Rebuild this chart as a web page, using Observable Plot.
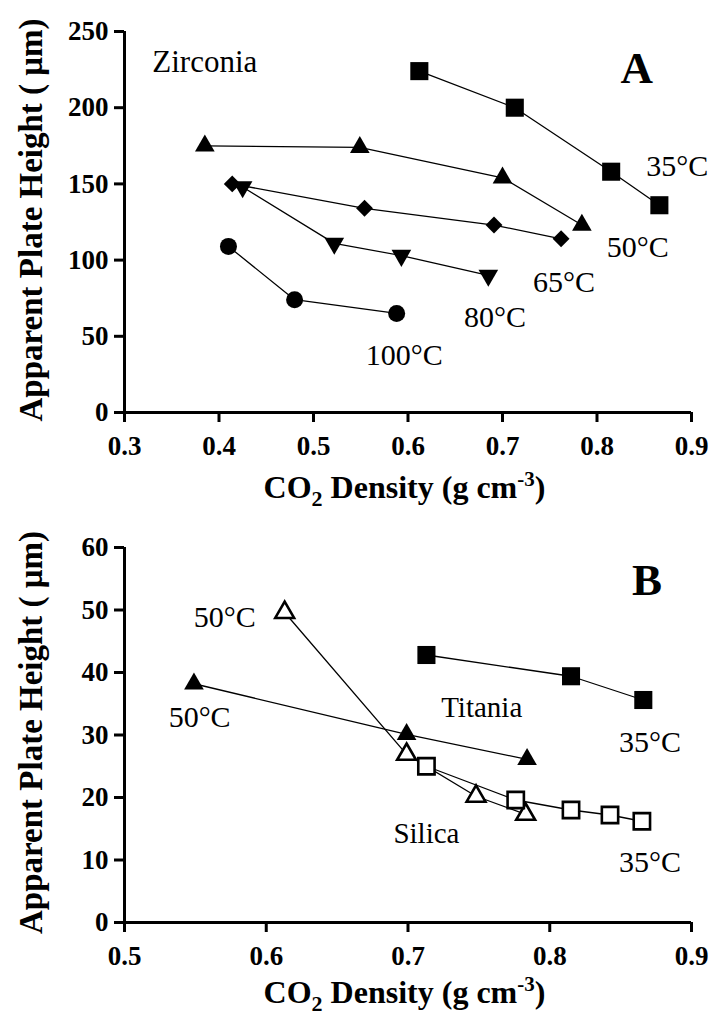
<!DOCTYPE html>
<html>
<head>
<meta charset="utf-8">
<script src="https://cdn.jsdelivr.net/npm/d3@7"></script>
<script src="https://cdn.jsdelivr.net/npm/@observablehq/plot@0.6"></script>
<style>
  html, body { margin: 0; padding: 0; background: #fff; }
  #chart { width: 715px; }
  #chart svg { display: block; font-family: "Liberation Serif", "Times New Roman", serif; }
</style>
</head>
<body>
<div id="chart"></div>
<script>
// ---- Panel A: zirconia column, plate height vs CO2 density ----
const zr35Density  = [0.612, 0.713, 0.815, 0.866];
const zr35Height   = [224, 200, 158, 136];
const zr50Density  = [0.385, 0.549, 0.700, 0.784];
const zr50Height   = [175, 174, 154, 123];
const zr65Density  = [0.414, 0.554, 0.691, 0.762];
const zr65Height   = [150, 134, 123, 114];
const zr80Density  = [0.425, 0.522, 0.593, 0.685];
const zr80Height   = [148, 111, 103, 90];
const zr100Density = [0.410, 0.480, 0.588];
const zr100Height  = [109, 74, 65];

// ---- Panel B: titania and silica columns ----
const ti35Density = [0.713, 0.815, 0.866];
const ti35Height  = [42.8, 39.4, 35.6];
const ti50Density = [0.549, 0.699, 0.784];
const ti50Height  = [38.2, 30.1, 26.1];
const si50Density = [0.613, 0.699, 0.748, 0.783];
const si50Height  = [49.6, 26.9, 20.2, 17.3];
const si35Density = [0.713, 0.776, 0.815, 0.8425, 0.865];
const si35Height  = [25.0, 19.6, 18.0, 17.2, 16.2];

// Axis ticks
const xTicksA = [0.3, 0.4, 0.5, 0.6, 0.7, 0.8, 0.9];
const yTicksA = [0, 50, 100, 150, 200, 250];
const xTicksB = [0.5, 0.6, 0.7, 0.8, 0.9];
const yTicksB = [0, 10, 20, 30, 40, 50, 60];

// Text
const yTitle = "Apparent Plate Height ( μm)";
const zrLabels = ["35°C", "50°C", "65°C", "80°C", "100°C"];
const bLabels = ["Titania", "Silica", "35°C", "35°C", "50°C", "50°C"];

const toPoints = (xs, ys) => xs.map((x, i) => ({density: x, height: ys[i]}));

// Downward-pointing triangle, same footprint as d3.symbolTriangle
const triangleDown = {
  draw(ctx, size) {
    const y = -Math.sqrt(size / (3 * Math.sqrt(3)));
    ctx.moveTo(0, -2 * y);
    ctx.lineTo(Math.sqrt(3) * y, y);
    ctx.lineTo(-Math.sqrt(3) * y, y);
    ctx.closePath();
  }
};

const serif = "Liberation Serif";

function series(points, symbol, r, open) {
  return [
    Plot.line(points, {x: "density", y: "height", stroke: "black", strokeWidth: 1.3}),
    Plot.dot(points, {
      x: "density", y: "height", symbol, r,
      fill: open ? "white" : "black",
      stroke: "black", strokeWidth: open ? 2.6 : 0
    })
  ];
}

function frame(xDomain, xTicks, yDomain, yTicks) {
  const font = {fontSize: 27, fontWeight: "bold", fontFamily: serif, fontVariant: "normal"};
  return [
    Plot.axisX(xTicks, {tickSize: 10, tickPadding: 13, strokeWidth: 3, tickFormat: d3.format(".1f"), label: null, ...font}),
    Plot.axisY(yTicks, {tickSize: 10, tickPadding: 6, strokeWidth: 3, tickFormat: d3.format("d"), label: null, ...font}),
    Plot.ruleY([yDomain[0]], {stroke: "black", strokeWidth: 3}),
    Plot.ruleX([xDomain[0]], {stroke: "black", strokeWidth: 3})
  ];
}

function label(text, x, y, opts = {}) {
  return Plot.text([text], {x: () => x, y: () => y, text: d => d, fontSize: 30,
    fontFamily: serif, fontWeight: "normal", fill: "black", ...opts});
}

// Axis titles with real sub/superscripts
function addTitles(svg, xCenter, xTitleY, yTitleY) {
  const s = d3.select(svg);
  s.append("text")
    .attr("transform", `translate(31,${yTitleY}) rotate(-90)`)
    .attr("text-anchor", "middle")
    .attr("dy", "0.34em")
    .attr("font-family", serif).attr("font-weight", "bold").attr("font-size", 33)
    .text(yTitle);
  const t = s.append("text")
    .attr("x", xCenter).attr("y", xTitleY)
    .attr("text-anchor", "middle")
    .attr("dy", "0.34em")
    .attr("font-family", serif).attr("font-weight", "bold").attr("font-size", 32);
  t.append("tspan").text("CO");
  t.append("tspan").attr("dy", 8).attr("font-size", 22).text("2");
  t.append("tspan").attr("dy", -8).text(" Density (g cm");
  t.append("tspan").attr("dy", -12).attr("font-size", 21).text("-3");
  t.append("tspan").attr("dy", 12).text(")");
}

const baseStyle = {fontFamily: serif, background: "white", color: "black", overflow: "visible"};

// Panel A
const plotA = Plot.plot({
  width: 715, height: 510,
  marginTop: 31, marginBottom: 98, marginLeft: 124, marginRight: 24,
  style: baseStyle,
  x: {domain: [0.3, 0.9]},
  y: {domain: [0, 250]},
  marks: [
    ...frame([0.3, 0.9], xTicksA, [0, 250], yTicksA),
    ...series(toPoints(zr35Density, zr35Height), "square", 10.2),
    ...series(toPoints(zr50Density, zr50Height), "triangle", 7.3),
    ...series(toPoints(zr65Density, zr65Height), "diamond2", 7.6),
    ...series(toPoints(zr80Density, zr80Height), triangleDown, 7.3),
    ...series(toPoints(zr100Density, zr100Height), "circle", 8.5),
    label("Zirconia", 0.385, 229.7, {fontSize: 31}),
    label("A", 0.842, 225.7, {fontSize: 45, fontWeight: "bold"}),
    label(zrLabels[0], 0.885, 161.4),
    label(zrLabels[1], 0.843, 108.3),
    label(zrLabels[2], 0.765, 85.3),
    label(zrLabels[3], 0.692, 62.3),
    label(zrLabels[4], 0.596, 37.4)
  ]
});

// Panel B
const plotB = Plot.plot({
  width: 715, height: 520,
  marginTop: 37, marginBottom: 108, marginLeft: 124, marginRight: 24,
  style: baseStyle,
  x: {domain: [0.5, 0.9]},
  y: {domain: [0, 60]},
  marks: [
    ...frame([0.5, 0.9], xTicksB, [0, 60], yTicksB),
    ...series(toPoints(ti50Density, ti50Height), "triangle", 7.3),
    ...series(toPoints(si50Density, si50Height), "triangle", 7.0, true),
    ...series(toPoints(si35Density, si35Height), "square", 9.2, true),
    ...series(toPoints(ti35Density, ti35Height), "square", 10.2),
    label("B", 0.8686, 54.7, {fontSize: 45, fontWeight: "bold"}),
    label(bLabels[0], 0.752, 34.4, {fontSize: 29}),
    label(bLabels[1], 0.713, 14.2, {fontSize: 29}),
    label(bLabels[2], 0.8707, 28.8),
    label(bLabels[3], 0.8707, 9.6),
    label(bLabels[4], 0.5708, 48.8),
    label(bLabels[5], 0.553, 32.8)
  ]
});

addTitles(plotA, 404.5, 487, 220);
addTitles(plotB, 404.5, 482, 222.5);

const root = document.getElementById("chart");
root.append(plotA, plotB);
</script>
</body>
</html>
